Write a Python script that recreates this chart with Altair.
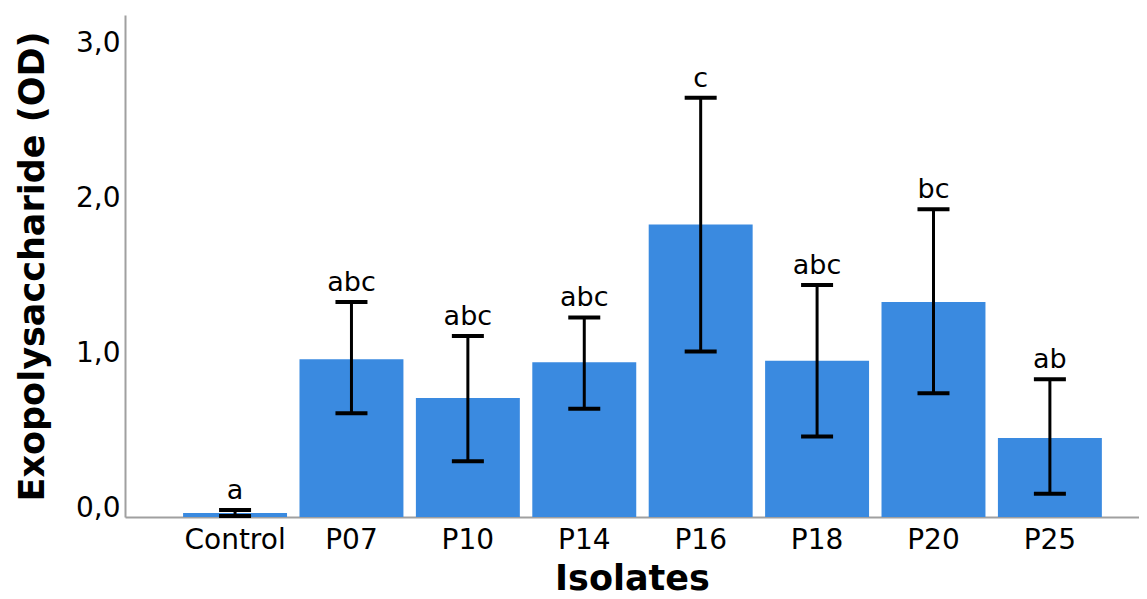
import altair as alt
import pandas as pd

isolates = ["Control", "P07", "P10", "P14", "P16", "P18", "P20", "P25"]
means = [0.026, 1.02, 0.77, 1.00, 1.89, 1.01, 1.39, 0.51]
err_low = [0.006, 0.67, 0.36, 0.70, 1.07, 0.52, 0.80, 0.15]
err_high = [0.045, 1.39, 1.17, 1.29, 2.71, 1.50, 1.99, 0.89]
letters = ["a", "abc", "abc", "abc", "c", "abc", "bc", "ab"]

df = pd.DataFrame({
    "Isolate": isolates,
    "Mean": means,
    "Low": err_low,
    "High": err_high,
    "Letter": letters,
})

FONT = "DejaVu Sans"

xscale = alt.Scale(paddingInner=0.107, paddingOuter=0.409, align=0.61)
yscale = alt.Scale(domain=[0, 3.245], nice=False, zero=True)

x = alt.X(
    "Isolate:N",
    sort=isolates,
    scale=xscale,
    axis=alt.Axis(
        title="Isolates",
        labelAngle=0,
        ticks=False,
        labelPadding=9,
        titlePadding=7,
        labelFontSize=28,
        titleFontSize=35,
        titleFontWeight="bold",
        labelColor="black",
        titleColor="black",
        domainColor="#a0a0a0",
        domainWidth=2,
        labelFont=FONT,
        titleFont=FONT,
    ),
)

y_axis = alt.Axis(
    title="Exopolysaccharide (OD)",
    values=[0, 1, 2, 3],
    labelExpr="replace(format(datum.value, '.1f'), '.', ',')",
    ticks=False,
    grid=False,
    labelPadding=5,
    labelOffset=-9,
    titlePadding=25,
    labelFontSize=28,
    titleFontSize=35,
    titleFontWeight="bold",
    labelColor="black",
    titleColor="black",
    domainColor="#a0a0a0",
    domainWidth=2,
    labelFont=FONT,
    titleFont=FONT,
)

bars = alt.Chart(df).mark_bar(color="#3a8ae0").encode(
    x=x,
    y=alt.Y("Mean:Q", scale=yscale, axis=y_axis),
)

rules = alt.Chart(df).mark_rule(color="black", strokeWidth=3).encode(
    x=alt.X("Isolate:N", sort=isolates, scale=xscale),
    y=alt.Y("Low:Q", scale=yscale),
    y2="High:Q",
)

caps_top = alt.Chart(df).mark_tick(color="black", thickness=4, size=32, opacity=1).encode(
    x=alt.X("Isolate:N", sort=isolates, scale=xscale),
    y=alt.Y("High:Q", scale=yscale),
)

caps_bot = alt.Chart(df).mark_tick(color="black", thickness=4, size=32, opacity=1).encode(
    x=alt.X("Isolate:N", sort=isolates, scale=xscale),
    y=alt.Y("Low:Q", scale=yscale),
)

texts = alt.Chart(df).mark_text(
    baseline="bottom", dy=-5, fontSize=27, font=FONT, color="black"
).encode(
    x=alt.X("Isolate:N", sort=isolates, scale=xscale),
    y=alt.Y("High:Q", scale=yscale),
    text="Letter:N",
)

chart = alt.layer(bars, rules, caps_top, caps_bot, texts).properties(
    width=1014,
    height=502,
    autosize=alt.AutoSizeParams(type="none"),
    padding={"left": 117, "top": 7, "right": 0, "bottom": 82},
).configure(background="white").configure_view(stroke=None)

chart.save("out.html", embed_options={"renderer": "svg", "actions": False})
